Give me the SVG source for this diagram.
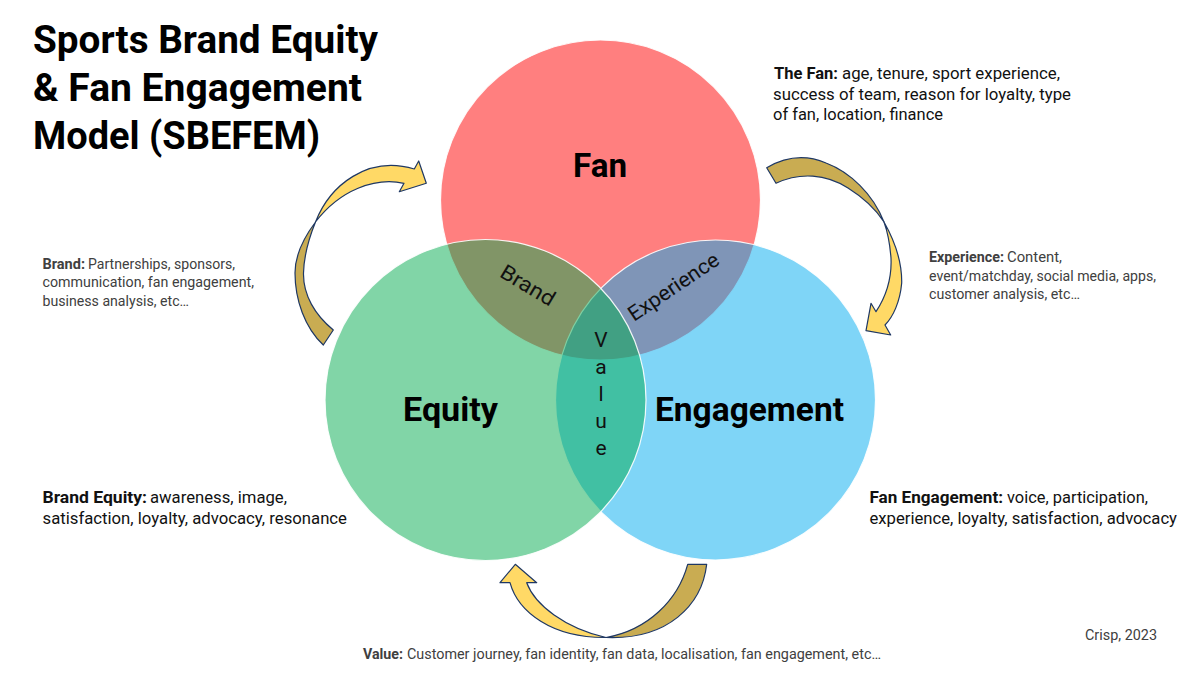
<svg xmlns="http://www.w3.org/2000/svg" width="1200" height="675" viewBox="0 0 1200 675">
<style>
text{font-family:"Roboto","Noto Sans",sans-serif;fill:#000}
.title{font-size:38px;font-weight:700}
.head{font-size:34px;font-weight:700}
.m{font-size:17px;fill:#111}
.s{font-size:14px;fill:#404040}
.b{font-weight:700}
.ov{font-size:21px;fill:#111}
.c{stroke:#fff;stroke-width:1.2;stroke-opacity:.9;fill-opacity:.5}
.lt{fill:#FFD966;stroke:#1F3864;stroke-width:1.2;stroke-linejoin:round}
.dk{fill:#C9AC52;stroke:#1F3864;stroke-width:1.2;stroke-linejoin:round}
</style>
<rect width="1200" height="675" fill="#fff"/>
<g id="title">
<text class="title" x="33" y="53" textLength="345" lengthAdjust="spacingAndGlyphs">Sports Brand Equity</text>
<text class="title" x="33" y="101" textLength="329" lengthAdjust="spacingAndGlyphs">&amp; Fan Engagement</text>
<text class="title" x="33" y="149" textLength="287" lengthAdjust="spacingAndGlyphs">Model (SBEFEM)</text>
</g>
<g id="node-fan"><circle class="c" cx="600.5" cy="200" r="160" fill="#FF0000"/></g>
<g id="node-engagement"><circle class="c" cx="715.5" cy="400" r="160" fill="#00ABF0"/></g>
<g id="node-equity"><circle class="c" cx="485.5" cy="400" r="160.5" fill="#03AB50"/></g>
<g id="labels">
<text class="head" x="573" y="177" textLength="54" lengthAdjust="spacingAndGlyphs">Fan</text>
<text class="head" x="403" y="421" textLength="95" lengthAdjust="spacingAndGlyphs">Equity</text>
<text class="head" x="655" y="421" textLength="189" lengthAdjust="spacingAndGlyphs">Engagement</text>
<text class="ov" transform="translate(498.5 276) rotate(31)" textLength="60" lengthAdjust="spacingAndGlyphs">Brand</text>
<text class="ov" transform="translate(634 322) rotate(-34)" textLength="105" lengthAdjust="spacingAndGlyphs">Experience</text>
<text class="ov" x="601" y="347" text-anchor="middle">V</text>
<text class="ov" x="601" y="374" text-anchor="middle">a</text>
<text class="ov" x="601" y="401" text-anchor="middle">l</text>
<text class="ov" x="601" y="428" text-anchor="middle">u</text>
<text class="ov" x="601" y="455" text-anchor="middle">e</text>
</g>
<g id="connectors">
<g id="arrow-left">
<path class="dk" d="M323.3 345L333.3 330C315 315 303 295 303.5 273C304 255 309 238 315.5 222C302 240 295 258 295 273C295 300 305 328 323.3 345Z"/>
<path class="lt" d="M315.5 222C330 185 368 155 414.3 169L418.7 161L426.3 183.3L399.3 191.7L404 183.3C375 177 340 190 315.5 222Z"/>
</g>
<g id="arrow-right">
<path class="dk" d="M766.7 167.7L776 183.3C800 172 826 174 848 188C864 198 875 208 884 222C873 194 850 172 826 163C805 154 785 157 766.7 167.7Z"/>
<path class="lt" d="M884 222C897 245 902 265 901.7 283C900 302 893 317 885 325L890.7 335L866 330.7L871 303.3L876 311.7C885 298 892 280 891 258C890 245 888 233 884 222Z"/>
</g>
<g id="arrow-bottom">
<path class="dk" d="M706.7 564.3H687.7C678 600 648 630 606 637.5C668 640 702 605 706.7 564.3Z"/>
<path class="lt" d="M606 637.5C552 638 518 612 510 582.7H500L515.3 564.3L536.7 582.7H526.7C535 605 565 628 606 637.5Z"/>
</g>
</g>
<g id="text-fan">
<text class="m" y="79"><tspan class="b" x="774" textLength="64" lengthAdjust="spacingAndGlyphs">The Fan:</tspan><tspan x="842" textLength="218" lengthAdjust="spacingAndGlyphs">age, tenure, sport experience,</tspan></text>
<text class="m" x="773" y="99.5" textLength="298" lengthAdjust="spacingAndGlyphs">success of team, reason for loyalty, type</text>
<text class="m" x="773" y="120" textLength="170" lengthAdjust="spacingAndGlyphs">of fan, location, finance</text>
</g>
<g id="text-experience">
<text class="s" y="262"><tspan class="b" x="929" textLength="75" lengthAdjust="spacingAndGlyphs">Experience:</tspan><tspan x="1007" textLength="55" lengthAdjust="spacingAndGlyphs">Content,</tspan></text>
<text class="s" x="929" y="281" textLength="227" lengthAdjust="spacingAndGlyphs">event/matchday, social media, apps,</text>
<text class="s" x="929" y="299" textLength="151" lengthAdjust="spacingAndGlyphs">customer analysis, etc…</text>
</g>
<g id="text-brand">
<text class="s" y="268.5"><tspan class="b" x="42.5" textLength="42.5" lengthAdjust="spacingAndGlyphs">Brand:</tspan><tspan x="88" textLength="147" lengthAdjust="spacingAndGlyphs">Partnerships, sponsors,</tspan></text>
<text class="s" x="42.5" y="287" textLength="211.5" lengthAdjust="spacingAndGlyphs">communication, fan engagement,</text>
<text class="s" x="42.5" y="305.5" textLength="146.5" lengthAdjust="spacingAndGlyphs">business analysis, etc…</text>
</g>
<g id="text-equity">
<text class="m" y="503"><tspan class="b" x="42.5" textLength="104.5" lengthAdjust="spacingAndGlyphs">Brand Equity:</tspan><tspan x="150" textLength="137" lengthAdjust="spacingAndGlyphs">awareness, image,</tspan></text>
<text class="m" x="42.5" y="524" textLength="304.5" lengthAdjust="spacingAndGlyphs">satisfaction, loyalty, advocacy, resonance</text>
</g>
<g id="text-engagement">
<text class="m" y="503"><tspan class="b" x="869.5" textLength="133.5" lengthAdjust="spacingAndGlyphs">Fan Engagement:</tspan><tspan x="1007" textLength="141" lengthAdjust="spacingAndGlyphs">voice, participation,</tspan></text>
<text class="m" x="869.5" y="524" textLength="307.5" lengthAdjust="spacingAndGlyphs">experience, loyalty, satisfaction, advocacy</text>
</g>
<g id="text-value">
<text class="s" y="658.5"><tspan class="b" x="363" textLength="40" lengthAdjust="spacingAndGlyphs">Value:</tspan><tspan x="407" textLength="474" lengthAdjust="spacingAndGlyphs">Customer journey, fan identity, fan data, localisation, fan engagement, etc…</tspan></text>
</g>
<g id="credit"><text class="s" x="1085" y="640" textLength="72" lengthAdjust="spacingAndGlyphs">Crisp, 2023</text></g>
</svg>
